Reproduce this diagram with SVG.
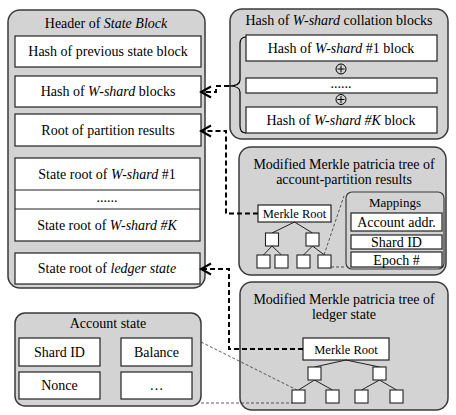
<svg xmlns="http://www.w3.org/2000/svg" width="456" height="415" viewBox="0 0 456 415">
<style>
text{font-family:"Liberation Serif","Times New Roman",Times,serif;font-size:14px;fill:#000;text-anchor:middle}
.i{font-style:italic}
.panel{fill:#d3d3d3;stroke:#3a3a3a;stroke-width:1.5}
.box{fill:#fff;stroke:#222;stroke-width:1.2}
.node{fill:#fff;stroke:#222;stroke-width:1.1}
.edge{stroke:#222;stroke-width:1;fill:none}
.conn{fill:none;stroke:#000;stroke-width:2;stroke-dasharray:5,3}
.thin{fill:none;stroke:#333;stroke-width:0.8;stroke-dasharray:3,2}
.mr{font-size:12.5px}
.xor{fill:none;stroke:#000;stroke-width:1}
</style>
<defs>
<marker id="arr" markerUnits="userSpaceOnUse" viewBox="-12 -7 14 14" refX="0" refY="0" markerWidth="14" markerHeight="14" orient="auto">
<path d="M-10,-5.5 L0,0 L-10,5.5" fill="none" stroke="#000" stroke-width="2" stroke-dasharray="none"/>
</marker>
</defs>

<g id="header">
<rect class="panel" x="8" y="10" width="197" height="278" rx="12"/>
<text x="106" y="28">Header of <tspan class="i">State Block</tspan></text>
<rect class="box" x="15" y="36" width="186" height="31"/>
<text x="108" y="56">Hash of previous state block</text>
<rect class="box" x="15" y="76" width="186" height="31"/>
<text x="108" y="96">Hash of <tspan class="i">W-shard</tspan> blocks</text>
<rect class="box" x="15" y="114" width="186" height="32"/>
<text x="108" y="134.5">Root of partition results</text>
<rect class="box" x="15" y="158" width="185" height="83"/>
<line class="box" x1="15" y1="190" x2="200" y2="190"/>
<line class="box" x1="15" y1="209" x2="200" y2="209"/>
<text x="107" y="178.5">State root of <tspan class="i">W-shard</tspan> #1</text>
<text x="107" y="202">......</text>
<text x="107" y="229.5">State root of <tspan class="i">W-shard #K</tspan></text>
<rect class="box" x="15" y="253" width="185" height="31"/>
<text x="107" y="273">State root of <tspan class="i">ledger state</tspan></text>
</g>

<g id="collation">
<rect class="panel" x="230" y="9" width="218" height="130" rx="12"/>
<text x="339" y="25">Hash of <tspan class="i">W-shard</tspan> collation blocks</text>
<rect class="box" x="246" y="35" width="191" height="26"/>
<text x="341" y="53">Hash of <tspan class="i">W-shard</tspan> #1 block</text>
<circle class="xor" cx="341" cy="69" r="5"/>
<path class="xor" d="M337.5,69 H344.5 M341,65.5 V72.5"/>
<rect class="box" x="246" y="78" width="191" height="15"/>
<text x="341" y="88">......</text>
<circle class="xor" cx="341" cy="99.5" r="5"/>
<path class="xor" d="M337.5,99.5 H344.5 M341,96 V103"/>
<rect class="box" x="246" y="107" width="191" height="26"/>
<text x="341" y="125">Hash of <tspan class="i">W-shard #K</tspan> block</text>
<path d="M246,37 Q240,37 240,44 V80 Q240,86 229,86 Q240,86 240,92 V126 Q240,133 246,133" fill="none" stroke="#000" stroke-width="1.2"/>
</g>

<g id="partition-tree">
<rect class="panel" x="239" y="147" width="207" height="128" rx="12"/>
<text x="344" y="169">Modified Merkle patricia tree of</text>
<text x="344" y="183.5">account-partition results</text>
<rect class="box" x="258" y="205" width="73" height="17"/>
<text class="mr" x="294.5" y="218">Merkle Root</text>
<path class="edge" d="M294.5,222 L272,233 M294.5,222 L312.5,233 M272,246 L263.5,255 M272,246 L281.5,255 M312.5,246 L303.5,255 M312.5,246 L324.5,255"/>
<rect class="node" x="265.5" y="233" width="13" height="13"/>
<rect class="node" x="306" y="233" width="13" height="13"/>
<rect class="node" x="257" y="255" width="13" height="13"/>
<rect class="node" x="275" y="255" width="13" height="13"/>
<rect class="node" x="297" y="255" width="13" height="13"/>
<rect class="node" x="318" y="255" width="13" height="13"/>
</g>

<g id="mappings">
<rect class="panel" x="346" y="192" width="98" height="77" rx="6" style="stroke-width:1.2"/>
<text x="395" y="206.5" style="font-size:13px">Mappings</text>
<rect class="box" x="351" y="213" width="91" height="18"/>
<text x="396.5" y="227">Account addr.</text>
<rect class="box" x="351" y="235" width="91" height="14"/>
<text x="396.5" y="246.5">Shard ID</text>
<rect class="box" x="351" y="252" width="91" height="15"/>
<text x="396.5" y="264.5">Epoch #</text>
</g>

<g id="ledger-tree">
<rect class="panel" x="240" y="282" width="208" height="128" rx="12"/>
<text x="344" y="304">Modified Merkle patricia tree of</text>
<text x="344" y="319">ledger state</text>
<rect class="box" x="303" y="338" width="86" height="22"/>
<text class="mr" x="346" y="353.5">Merkle Root</text>
<path class="edge" d="M346,360 L314.5,367 M346,360 L379.5,367 M314.5,380 L298.5,390 M314.5,380 L332.5,390 M379.5,380 L361.5,390 M379.5,380 L396.5,390"/>
<rect class="node" x="308" y="367" width="13" height="13"/>
<rect class="node" x="373" y="367" width="13" height="13"/>
<rect class="node" x="292" y="390" width="13" height="13"/>
<rect class="node" x="326" y="390" width="13" height="13"/>
<rect class="node" x="355" y="390" width="13" height="13"/>
<rect class="node" x="390" y="390" width="13" height="13"/>
</g>

<g id="account-state">
<rect class="panel" x="15" y="313" width="186" height="93" rx="10"/>
<text x="108" y="328">Account state</text>
<rect class="box" x="19" y="338" width="81" height="28"/>
<text x="59.5" y="357">Shard ID</text>
<rect class="box" x="121" y="338" width="71" height="28"/>
<text x="156.5" y="357">Balance</text>
<rect class="box" x="19" y="372" width="81" height="27"/>
<text x="59.5" y="390">Nonce</text>
<rect class="box" x="121" y="372" width="71" height="27"/>
<text x="156.5" y="390">…</text>
</g>

<g id="connectors">
<path class="conn" d="M229,86 H216 V92 H201" marker-end="url(#arr)"/>
<path class="conn" d="M258,213.5 H226 V131 H201" marker-end="url(#arr)"/>
<path class="conn" d="M303,349 H229 V269 H201" marker-end="url(#arr)"/>
<path class="thin" d="M324,255 L344,196"/>
<path class="thin" d="M331,267 H346"/>
<path class="thin" d="M201,342 L297,390"/>
<path class="thin" d="M201,403 H292"/>
</g>
</svg>
